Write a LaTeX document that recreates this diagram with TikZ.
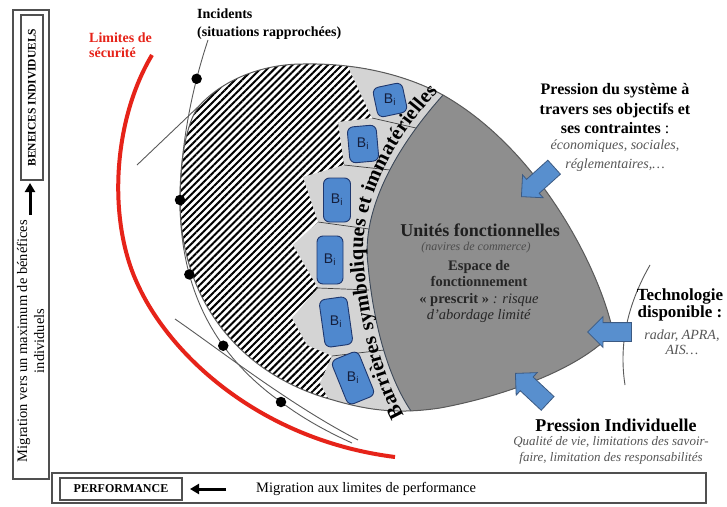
\documentclass[tikz,border=0pt]{standalone}
\usepackage{fontspec}
\setmainfont{Liberation Serif}
\newfontfamily\sansB{Liberation Sans}
\usetikzlibrary{patterns.meta,decorations.text,shapes.arrows,arrows.meta}
\definecolor{redlim}{RGB}{230,35,25}
\definecolor{zonegray}{RGB}{142,142,142}
\definecolor{bandgray}{RGB}{212,212,212}
\definecolor{bfill}{RGB}{79,136,206}
\definecolor{bdraw}{RGB}{30,55,110}
\definecolor{bnavy}{RGB}{20,30,60}
\definecolor{afill}{RGB}{88,143,206}
\definecolor{adraw}{RGB}{60,90,130}
\definecolor{txtgray}{RGB}{85,85,85}
\definecolor{linegray}{RGB}{90,90,90}
\definecolor{boxgray}{RGB}{80,80,80}
\definecolor{zoneline}{RGB}{60,72,88}
\newcommand{\setfs}[2]{\fontsize{#1}{#2}\selectfont}
\newcommand{\bandfont}{\fontsize{20.5}{20.5}\selectfont\bfseries}
\newcommand{\outershape}{(613,332) .. controls (600,270) and (540,150) .. (443,95) .. controls (400,72) and (350,63) .. (303,64) .. controls (265,64) and (225,78) .. (200,105) .. controls (188,118) and (180,155) .. (180,200) .. controls (180,300) and (240,375) .. (333,400) .. controls (370,411) and (400,414) .. (440,408) .. controls (500,397) and (580,370) .. (613,332) -- cycle}
\begin{document}
\begin{tikzpicture}[x=1pt,y=-1pt,
  thinline/.style={draw=linegray, line width=0.9pt},
  dot/.style={circle, fill=black, inner sep=0pt, minimum size=10.5pt},
  bbox/.style={draw=bdraw, line width=0.9pt, fill=bfill, rounded corners=6pt, inner sep=0pt},
  blabel/.style={font=\sansB\setfs{14}{14}, text=bnavy, inner sep=0pt},
  press/.style={single arrow, draw=adraw, fill=afill, line width=0.8pt, inner sep=0pt,
    text height=9pt, text depth=9pt, text width=0pt, minimum height=44pt,
    single arrow head extend=6pt, anchor=tip},
  framebox/.style={draw=boxgray, line width=1.2pt, inner sep=0pt},
  sep/.style={draw=darkgray, line width=0.7pt},
  bigarrow/.style={line width=3pt, -{Triangle[width=10pt,length=9pt]}}
]
\useasboundingbox (0,0) rectangle (727,506);
\fill[white] (0,0) rectangle (727,506);

% red safety limit
\draw[redlim, line width=4pt] (152,55) .. controls (113,120) and (107,220) .. (138,285)
  .. controls (170,355) and (260,440) .. (395,457);

% thin lines
\coordinate (tl1) at (137,165); \coordinate (tl2) at (200,105);
\draw[thinline] (tl1) -- (tl2);
\coordinate (lc1) at (175,319); \coordinate (lc2) at (358,440);
\draw[thinline] (lc1) .. controls (220,350) and (290,405) .. (lc2);
\coordinate (tc1) at (650,265); \coordinate (tc2) at (625,385);
\draw[thinline] (tc1) .. controls (630,300) and (618,340) .. (tc2);

% main shape
\begin{scope}
\clip \outershape;
\fill[white] (150,40) rectangle (650,450);
\fill[pattern={Lines[angle=45,distance=5pt,line width=2pt]}, pattern color=black]
  (150,40) rectangle (650,450);
\fill[bandgray] (345,40) -- (350,71) -- (372,118) -- (338,122) -- (344,165) -- (303,177)
  -- (318,222) -- (293,245) -- (318,288) -- (292,318) -- (307,345) -- (332,356)
  -- (320,383) -- (330,402) -- (330,440) -- (480,440) -- (480,40) -- cycle;
\draw[sep] (372,118) -- (416,128);
\draw[sep] (344,165) -- (390,170);
\draw[sep] (318,222) -- (369,229);
\draw[sep] (318,288) -- (369,290);
\draw[sep] (332,356) -- (384,350);
\fill[zonegray] (443,95) -- (446,40) -- (700,40) -- (700,460) -- (411,460) -- (411,411)
  .. controls (390,380) and (374,330) .. (368,265) .. controls (362,220) and (385,160) .. (443,95) -- cycle;
\end{scope}
\draw[draw=zoneline, line width=0.9pt] (411,411) .. controls (390,380) and (374,330) .. (368,265)
  .. controls (362,220) and (385,160) .. (443,95);
\draw[draw=linegray, line width=1pt] \outershape;

% incidents curve with dots
\coordinate (ic1) at (208,40); \coordinate (ic2) at (352,443);
\draw[thinline] (ic1) .. controls (198,70) and (181,130) .. (180,200)
  node[dot, pos=0.33] (d1) {} node[dot, pos=1] (d2) {}
  .. controls (180,290) and (215,355) .. (281,402)
  node[dot, pos=0.3] (d3) {} node[dot, pos=0.65] (d4) {} node[dot, pos=1] (d5) {}
  .. controls (305,420) and (330,433) .. (ic2);

% barrier boxes
\node[bbox, minimum width=30pt, minimum height=30pt, rotate=12] (b1) at (390,100) {};
\node[bbox, minimum width=29pt, minimum height=36pt, rotate=5] (b2) at (363,144) {};
\node[bbox, minimum width=27pt, minimum height=44pt] (b3) at (337,200) {};
\node[bbox, minimum width=26pt, minimum height=48pt] (b4) at (330,260) {};
\node[bbox, minimum width=28pt, minimum height=48pt, rotate=8] (b5) at (336,322) {};
\node[bbox, minimum width=29pt, minimum height=48pt, rotate=22] (b6) at (353,378) {};
\foreach \b in {b1,b2,b3,b4,b5,b6}{\node[blabel] (\b t) at (\b) {B\textsubscript{i}};}

% band text
\path[decorate, decoration={text along path, text={|\bandfont|Barrières symboliques et immatérielles},
  text align={fit to path}}]
  (404,415) .. controls (386,382) and (370,332) .. (364,265) .. controls (358,218) and (382,150) .. (438,92);

% pressure arrows
\node[press, rotate=222] (pa1) at (521,197) {};
\node[press, rotate=180] (pa2) at (587,332) {};
\node[press, rotate=137] (pa3) at (515,373) {};

% texts
\node[font=\bfseries\setfs{14}{18}, align=left, anchor=west, inner sep=0pt] (inc) at (197,24) {Incidents\\(situations rapprochées)};
\node[font=\bfseries\setfs{14}{15.5}, text=redlim, align=left, anchor=west, inner sep=0pt] (lim) at (89,45) {Limites de\\sécurité};
\node[font=\bfseries\setfs{16}{19.5}, align=center, inner sep=0pt] (psys) at (615,109) {Pression du système à\\travers ses objectifs et\\ses contraintes {\mdseries :}};
\node[font=\itshape\setfs{14}{19}, text=txtgray, align=center, inner sep=0pt] (psysd) at (615,156) {économiques, sociales,\\réglementaires,…};
\node[font=\bfseries\setfs{18}{18}, text=black!88, inner sep=0pt] (u1) at (480,230) {Unités fonctionnelles};
\node[font=\itshape\setfs{12}{12}, text=black!70, inner sep=0pt] (u2) at (476,248) {(navires de commerce)};
\node[font=\setfs{14.5}{16.3}, text=black!85, align=center, inner sep=0pt] (u3) at (479,291.5) {\textbf{Espace de}\\\textbf{fonctionnement}\\\textbf{« prescrit »}\textit{ : risque}\\\textit{d’abordage limité}};
\node[font=\bfseries\setfs{17}{16.5}, align=center, inner sep=0pt] (tech) at (680,305) {Technologie\\disponible :};
\node[font=\itshape\setfs{14}{15}, text=txtgray, align=center, inner sep=0pt] (techd) at (682,342.5) {radar, APRA,\\AIS…};
\node[font=\bfseries\setfs{18}{18}, inner sep=0pt] (pind) at (616,425) {Pression Individuelle};
\node[font=\itshape\setfs{13}{16}, text=txtgray, align=center, inner sep=0pt] (pindd) at (611,450) {Qualité de vie, limitations des savoir-\\faire, limitation des responsabilités};

% left frame
\node[framebox, minimum width=36pt, minimum height=469pt] (lbox) at (31,244.5) {};
\node[framebox, rotate=90, minimum width=165pt, minimum height=22pt, font=\bfseries\setfs{11.5}{11.5}] (benef) at (32,97.5) {BENEICES INDIVIDUELS};
\coordinate (upA) at (30,215); \coordinate (upB) at (30,183);
\draw[bigarrow] (upA) -- (upB);
\node[rotate=90, font=\setfs{14.5}{17}, align=center, inner sep=0pt] (migv) at (30.5,341) {Migration vers un maximum de bénéfices\\individuels};

% bottom frame
\node[framebox, minimum width=654pt, minimum height=30pt] (botbox) at (379,488) {};
\node[framebox, minimum width=122pt, minimum height=22pt, font=\bfseries\setfs{12}{12}] (perf) at (121,489) {PERFORMANCE};
\coordinate (arR) at (226,489); \coordinate (arL) at (190,489);
\draw[bigarrow] (arR) -- (arL);
\node[font=\setfs{14.5}{14.5}, anchor=west, inner sep=0pt] (migh) at (256,489) {Migration aux limites de performance};
\end{tikzpicture}
\end{document}
